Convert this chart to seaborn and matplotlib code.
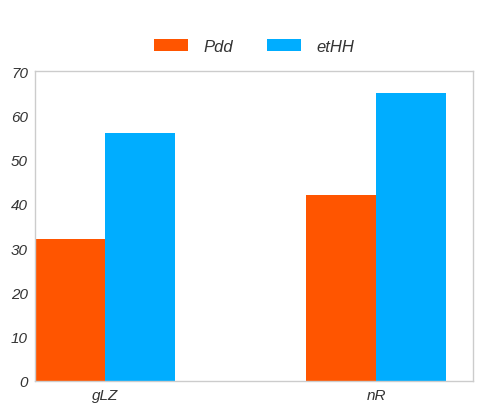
import pandas as pd
import matplotlib
matplotlib.use("Agg")
import matplotlib.pyplot as plt
import seaborn as sns

# data
categories = ["gLZ", "nR"]
series_names = ["Pdd", "etHH"]
pdd_values = [32, 42]
ethh_values = [56, 65]
colors = ["#FF5500", "#00ADFF"]
y_ticks = [0, 10, 20, 30, 40, 50, 60, 70]

df = pd.DataFrame({
    "category": categories * 2,
    "series": [series_names[0]] * len(categories) + [series_names[1]] * len(categories),
    "value": pdd_values + ethh_values,
})

sns.set_theme(style="white")
plt.rcParams["font.family"] = ["Liberation Sans", "DejaVu Sans"]

fig = plt.figure(figsize=(4.83, 4.14), dpi=100)
ax = fig.add_axes([35 / 483, 32 / 414, 438 / 483, 310 / 414])

sns.barplot(
    data=df, x="category", y="value", hue="series",
    palette=colors, width=0.515, saturation=1, linewidth=0,
    ax=ax, legend=True,
)

ax.set_xlim(-0.2575, 1.357)
ax.set_ylim(0, 70)
ax.set_yticks(y_ticks)
ax.set_xlabel("")
ax.set_ylabel("")
for spine in ax.spines.values():
    spine.set_color("#CCCCCC")
    spine.set_linewidth(1)
ax.tick_params(axis="both", length=0, pad=5, colors="#333333", labelsize=11)
for lbl in ax.get_xticklabels() + ax.get_yticklabels():
    lbl.set_fontstyle("italic")

handles, labels = ax.get_legend_handles_labels()
ax.legend_.remove()
leg = fig.legend(
    handles, labels, loc="center", bbox_to_anchor=(254 / 483, 1 - 47 / 414),
    ncol=2, frameon=False, handlelength=2.05, handleheight=0.72,
    handletextpad=0.95, columnspacing=2.0, prop={"size": 12, "style": "italic"},
)
for t in leg.get_texts():
    t.set_color("#333333")

fig.savefig("out.png", dpi=100)
